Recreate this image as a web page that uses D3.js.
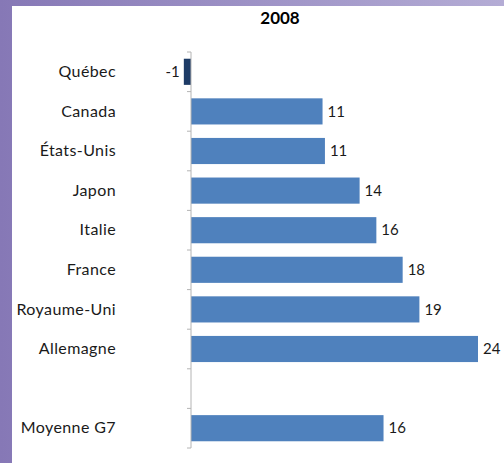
<!DOCTYPE html>
<html>
<head>
<meta charset="utf-8">
<script src="https://cdn.jsdelivr.net/npm/d3@7"></script>
<style>
  html, body { margin: 0; padding: 0; }
  body { width: 504px; height: 463px; overflow: hidden; }
</style>
</head>
<body>
<div id="chart"></div>
<script>
(function(){
  // données (valeurs arrondies dans les étiquettes)
  const categories = ["Québec", "Canada", "États-Unis", "Japon", "Italie", "France", "Royaume-Uni", "Allemagne", "", "Moyenne G7"];
  const values = [-0.6, 11.0, 11.2, 14.1, 15.5, 17.7, 19.1, 24.0, null, 16.1];
  const title = "2008";

  const width = 504;
  const height = 463;
  const police = "Lato, 'Open Sans', sans-serif";

  const svg = d3.select("#chart")
    .append("svg")
    .attr("width", width)
    .attr("height", height);

  // cadre violet en dégradé
  const defs = svg.append("defs");
  const grad = defs.append("linearGradient")
    .attr("id", "bord")
    .attr("x1", "0%").attr("x2", "100%")
    .attr("y1", "0%").attr("y2", "0%");
  grad.append("stop").attr("offset", "0%").attr("stop-color", "#8678b6");
  grad.append("stop").attr("offset", "100%").attr("stop-color", "#b4acd5");

  svg.append("rect")
    .attr("width", width).attr("height", height)
    .attr("fill", "url(#bord)");
  svg.append("rect")
    .attr("x", 12).attr("y", 6)
    .attr("width", width - 12).attr("height", height - 6)
    .attr("fill", "#ffffff");

  const data = categories.map((c, i) => ({name: c, key: c || "vide", value: values[i]}));

  const y = d3.scaleBand()
    .domain(data.map(d => d.key))
    .range([52, 448])
    .paddingInner(0.34)
    .paddingOuter(0.17);

  const x = d3.scaleLinear()
    .domain([0, 24])
    .range([191, 478]);

  // titre
  svg.append("text")
    .attr("x", 280)
    .attr("y", 24)
    .attr("text-anchor", "middle")
    .style("font-family", police)
    .style("font-weight", "bold")
    .style("font-size", "17px")
    .attr("fill", "#000")
    .text(title);

  // barres
  svg.append("g")
    .selectAll("rect")
    .data(data.filter(d => d.value !== null))
    .enter().append("rect")
    .attr("x", d => x(Math.min(0, d.value)))
    .attr("width", d => Math.abs(x(d.value) - x(0)))
    .attr("y", d => y(d.key))
    .attr("height", y.bandwidth())
    .attr("fill", d => d.value < 0 ? "#1d3b66" : "#4f81bd");

  // axe vertical et graduations aux limites des catégories
  const step = y.step();
  const bounds = d3.range(categories.length + 1).map(i => 52 + i * step);
  const axe = svg.append("g");
  axe.append("line")
    .attr("x1", x(0)).attr("x2", x(0))
    .attr("y1", 52).attr("y2", 448)
    .attr("stroke", "#b4b4b4")
    .attr("stroke-width", 1);
  axe.selectAll("line.tick")
    .data(bounds)
    .enter().append("line")
    .attr("class", "tick")
    .attr("x1", x(0) - 4).attr("x2", x(0))
    .attr("y1", d => d).attr("y2", d => d)
    .attr("stroke", "#b4b4b4");

  // étiquettes des catégories
  const yAxis = d3.axisLeft(y)
    .tickSize(0)
    .tickPadding(0)
    .tickFormat(k => data.find(d => d.key === k).name);
  const gy = svg.append("g")
    .attr("transform", "translate(116,0)")
    .call(yAxis);
  gy.select(".domain").remove();
  gy.selectAll("text")
    .style("font-family", police)
    .style("font-size", "16px")
    .style("letter-spacing", "0.4px")
    .attr("fill", "#1a1a1a");

  // étiquettes des valeurs
  svg.append("g")
    .selectAll("text")
    .data(data.filter(d => d.value !== null))
    .enter().append("text")
    .attr("x", d => d.value < 0 ? x(d.value) - 4 : x(d.value) + 5)
    .attr("y", d => y(d.key) + y.bandwidth() / 2)
    .attr("dy", "0.35em")
    .attr("text-anchor", d => d.value < 0 ? "end" : "start")
    .style("font-family", police)
    .style("font-size", "15px")
    .attr("fill", "#1a1a1a")
    .text(d => Math.round(d.value));
})();
</script>
</body>
</html>
